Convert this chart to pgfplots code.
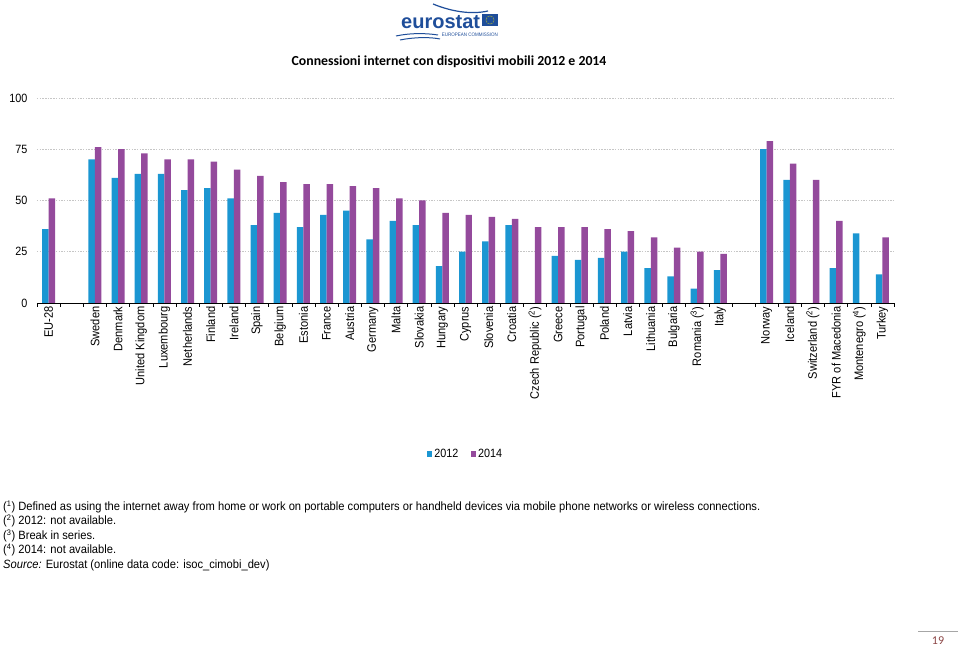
\documentclass[border=0pt]{standalone}
\usepackage{pgfplots}
\pgfplotsset{compat=1.18}
\usepackage{fontspec}
\setmainfont{Liberation Sans}
\newfontfamily\narrow[FakeStretch=0.9]{Liberation Sans}
\newfontfamily\narrowb[FakeStretch=0.93]{Liberation Sans}
\newfontfamily\calibri{Carlito}
\definecolor{bblue}{HTML}{1B96D2}
\definecolor{bpurple}{HTML}{944A9C}
\definecolor{logoblue}{HTML}{1F4E9A}
\definecolor{pgred}{HTML}{8C4646}
\begin{document}
\begin{tikzpicture}[x=1pt,y=1pt]
\path (0,0) rectangle (960,647);
% logo
\draw[logoblue, line width=1.2pt] (433,643) .. controls (450,636) and (470,632) .. (488,636);
\node[anchor=base west, font=\bfseries\fontsize{20}{20}\selectfont, text=logoblue, inner sep=0, text depth=0pt] at (401,618) {eurostat};
\fill[logoblue] (482,621) rectangle (498,633);
\foreach \a in {0,30,...,330} \fill[yellow] ({490+3.8*cos(\a)},{627+3.8*sin(\a)}) circle (0.5);
\node[anchor=base east, font=\narrow\fontsize{5}{5}\selectfont, text=logoblue, inner sep=0] at (498,610) {EUROPEAN COMMISSION};
\draw[logoblue, line width=1pt] (396,611) .. controls (410,614) and (425,614) .. (438,612);
\draw[logoblue, line width=1pt] (400,607) .. controls (415,610) and (430,610) .. (440,608);
% title
\node[font=\calibri\bfseries\fontsize{13.8}{13.8}\selectfont] at (449,585) {Connessioni internet con dispositivi mobili 2012 e 2014};
\begin{axis}[
  at={(37pt,344pt)}, anchor=south west, scale only axis,
  width=857pt, height=205pt,
  xmin=-0.5, xmax=36.5, ymin=0, ymax=100,
  axis x line*=bottom, axis y line*=left,
  x axis line style={-,black},
  y axis line style={draw=none},
  ytick={0,25,50,75,100},
  ytick style={draw=none},
  ymajorgrids,
  grid style={gray!45, dash pattern=on 1.5pt off 1.2pt, line width=0.6pt},
  tick align=outside,
  xtick={-0.5,0.5,...,36.5},
  xticklabels={},
  major tick length=4pt,
  xtick style={black, thin},
  yticklabel style={font=\narrow\fontsize{12}{12}\selectfont, xshift=-2pt},
  /pgf/number format/assume math mode=true,
  extra x ticks={0,1,...,36},
  extra x tick labels={EU-28,,Sweden,Denmark,United Kingdom,Luxembourg,Netherlands,Finland,Ireland,Spain,Belgium,Estonia,France,Austria,Germany,Malta,Slovakia,Hungary,Cyprus,Slovenia,Croatia,Czech Republic (\textsuperscript{2}),Greece,Portugal,Poland,Latvia,Lithuania,Bulgaria,Romania (\textsuperscript{3}),Italy,,Norway,Iceland,Switzerland (\textsuperscript{2}),FYR of Macedonia,Montenegro (\textsuperscript{4}),Turkey},
  extra x tick style={major tick length=0pt, xticklabel style={rotate=90, anchor=east, font=\narrow\fontsize{12.3}{12.3}\selectfont}},
  legend columns=2,
  legend style={at={(0.5,-0.737)}, anchor=center, draw=none, fill=none, font=\narrow\fontsize{12}{12}\selectfont, /tikz/every even column/.append style={column sep=10pt}, inner sep=0pt},
]
\addplot[ybar, bar width=0.28, bar shift=-0.14, fill=bblue, draw=none,
  legend image code/.code={\fill[bblue] (0pt,-2.7pt) rectangle (5.5pt,2.7pt);}]
coordinates {(0,36) (2,70) (3,61) (4,63) (5,63) (6,55) (7,56) (8,51) (9,38) (10,44) (11,37) (12,43) (13,45) (14,31) (15,40) (16,38) (17,18) (18,25) (19,30) (20,38) (22,23) (23,21) (24,22) (25,25) (26,17) (27,13) (28,7) (29,16) (31,75) (32,60) (34,17) (35,34) (36,14)};
\addlegendentry{2012}
\addplot[ybar, bar width=0.28, bar shift=0.14, fill=bpurple, draw=none,
  legend image code/.code={\fill[bpurple] (0pt,-2.7pt) rectangle (5.5pt,2.7pt);}]
coordinates {(0,51) (2,76) (3,75) (4,73) (5,70) (6,70) (7,69) (8,65) (9,62) (10,59) (11,58) (12,58) (13,57) (14,56) (15,51) (16,50) (17,44) (18,43) (19,42) (20,41) (21,37) (22,37) (23,37) (24,36) (25,35) (26,32) (27,27) (28,25) (29,24) (31,79) (32,68) (33,60) (34,40) (36,32)};
\addlegendentry{2014}
\end{axis}
% footnotes
\begin{scope}[every node/.style={anchor=west, inner sep=0, font=\narrowb\fontsize{12}{12}\selectfont}]
\node at (3,140) {(\textsuperscript{1}) Defined as using the internet away from home or work on portable computers or handheld devices via mobile phone networks or wireless connections.};
\node at (3,126) {(\textsuperscript{2}) 2012: not available.};
\node at (3,111) {(\textsuperscript{3}) Break in series.};
\node at (3,97) {(\textsuperscript{4}) 2014: not available.};
\node at (3,82) {\textit{Source:} Eurostat (online data code: isoc\_cimobi\_dev)};
\end{scope}
% page number
\draw[gray!70, line width=0.6pt] (918,16) -- (958,16);
\node[font=\calibri\fontsize{12}{12}\selectfont, text=pgred] at (938,6) {19};
\end{tikzpicture}
\end{document}
